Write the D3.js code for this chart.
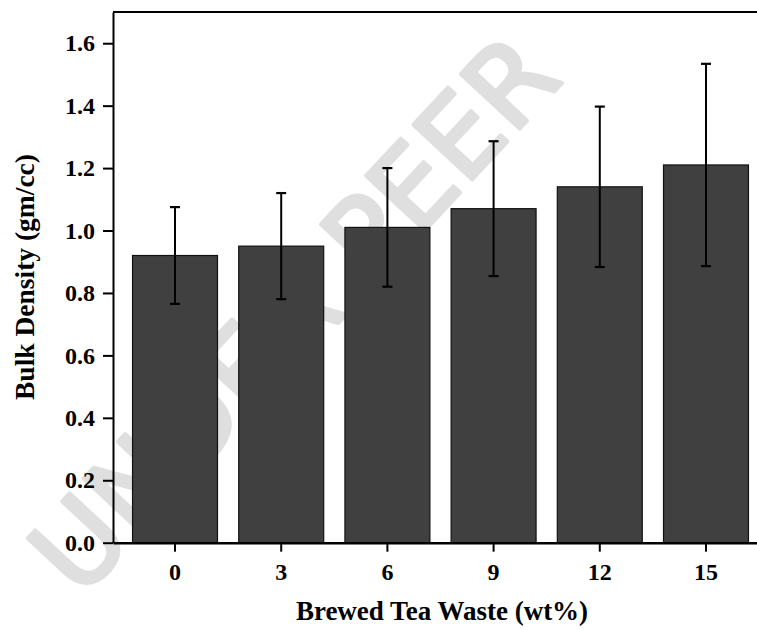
<!DOCTYPE html>
<html>
<head>
<meta charset="utf-8">
<script src="https://cdn.jsdelivr.net/npm/d3@7"></script>
<style>
  html, body { margin: 0; padding: 0; background: #fff; }
  svg { display: block; }
</style>
</head>
<body>
<svg id="chart" width="757" height="630"></svg>
<script>
// Bulk density by brewed tea waste loading
const categories = ["0", "3", "6", "9", "12", "15"];
const density = [0.92, 0.95, 1.01, 1.07, 1.14, 1.21];
const densityErr = [0.155, 0.17, 0.19, 0.216, 0.257, 0.324];
const yTicks = [0.0, 0.2, 0.4, 0.6, 0.8, 1.0, 1.2, 1.4, 1.6];
const yDomain = [0, 1.7];
const xTitle = "Brewed Tea Waste (wt%)";
const yTitle = "Bulk Density (gm/cc)";
const stampText = "UNDER PEER";

const rows = categories.map((c, i) => ({ cat: c, value: density[i], err: densityErr[i] }));

const svg = d3.select("#chart");
const plotLeft = 113, plotRight = 768, plotTop = 12, plotBottom = 542.7;
const serif = "'Liberation Serif', 'Times New Roman', Times, serif";

// light diagonal stamp behind the plot
svg.append("text")
  .attr("transform", "translate(80,600) rotate(-47)")
  .attr("font-family", "'DejaVu Sans', sans-serif")
  .attr("font-size", 110)
  .attr("fill", "#dfdfdf")
  .attr("stroke", "#dfdfdf")
  .attr("stroke-width", 4)
  .attr("stroke-linejoin", "round")
  .text(stampText);

const x = d3.scaleBand()
  .domain(categories)
  .range([plotLeft, plotRight])
  .paddingInner(0.2)
  .paddingOuter(0.184);

const y = d3.scaleLinear().domain(yDomain).range([plotBottom, plotTop]);

// bars
svg.append("g").selectAll("rect")
  .data(rows)
  .join("rect")
  .attr("x", d => x(d.cat))
  .attr("y", d => y(d.value))
  .attr("width", x.bandwidth())
  .attr("height", d => y(0) - y(d.value))
  .attr("fill", "#404040")
  .attr("stroke", "#111")
  .attr("stroke-width", 1.2);

// error bars
const cap = 5;
const eg = svg.append("g").attr("stroke", "#000").attr("stroke-width", 2).attr("fill", "none");
rows.forEach(d => {
  const cx = x(d.cat) + x.bandwidth() / 2;
  const hi = y(d.value + d.err), lo = y(d.value - d.err);
  eg.append("line").attr("x1", cx).attr("x2", cx).attr("y1", hi).attr("y2", lo);
  eg.append("line").attr("x1", cx - cap).attr("x2", cx + cap).attr("y1", hi).attr("y2", hi).attr("stroke-width", 2.2);
  eg.append("line").attr("x1", cx - cap).attr("x2", cx + cap).attr("y1", lo).attr("y2", lo).attr("stroke-width", 2.2);
});

// top frame line
svg.append("line")
  .attr("x1", plotLeft).attr("x2", plotRight).attr("y1", plotTop).attr("y2", plotTop)
  .attr("stroke", "#000").attr("stroke-width", 2);

// axes
const xAxis = svg.append("g")
  .attr("transform", `translate(0,${plotBottom})`)
  .call(d3.axisBottom(x).tickSize(9).tickSizeOuter(0).tickPadding(11));
xAxis.select(".domain").attr("stroke-width", 2.5);
xAxis.selectAll(".tick line").attr("stroke-width", 2);
xAxis.selectAll("text")
  .attr("font-family", serif).attr("font-weight", "bold").attr("font-size", 24).attr("fill", "#000");

const yAxis = svg.append("g")
  .attr("transform", `translate(${plotLeft},0)`)
  .call(d3.axisLeft(y).tickValues(yTicks).tickFormat(d3.format(".1f")).tickSize(10).tickSizeOuter(0).tickPadding(8));
yAxis.select(".domain").attr("stroke-width", 2);
yAxis.selectAll(".tick line").attr("stroke-width", 2);
yAxis.selectAll("text")
  .attr("font-family", serif).attr("font-weight", "bold").attr("font-size", 24).attr("fill", "#000");

// axis titles
svg.append("text")
  .attr("x", 442)
  .attr("y", 620)
  .attr("text-anchor", "middle")
  .attr("font-family", serif).attr("font-weight", "bold").attr("font-size", 27)
  .text(xTitle);

svg.append("text")
  .attr("transform", "translate(34,277) rotate(-90)")
  .attr("text-anchor", "middle")
  .attr("font-family", serif).attr("font-weight", "bold").attr("font-size", 27.5)
  .text(yTitle);
</script>
</body>
</html>
